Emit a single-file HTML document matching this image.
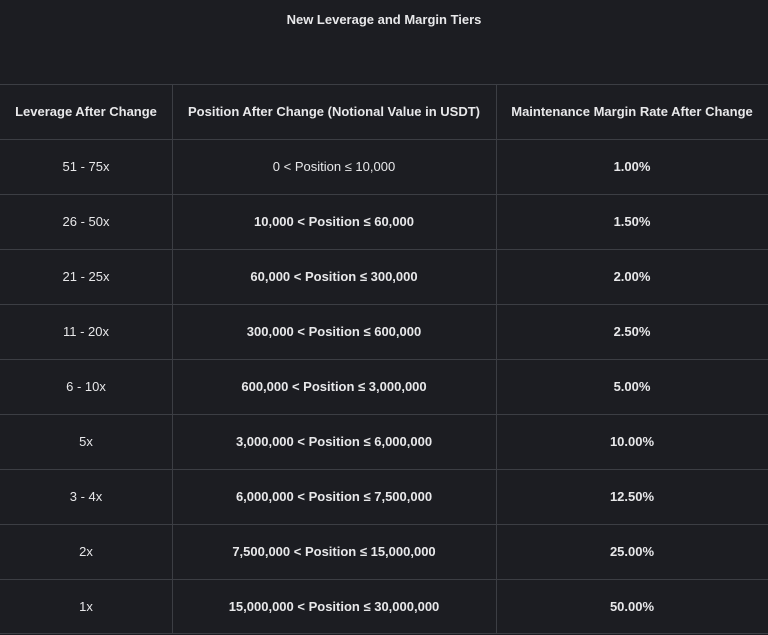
<!DOCTYPE html>
<html><head><style>
body{margin:0;width:768px;height:635px;background:#1c1d22;font-family:"Liberation Sans",sans-serif;color:#e8e8ea;overflow:hidden;position:relative}
.t{position:absolute;top:12px;left:0;width:768px;text-align:center;font-size:13px;font-weight:bold}
.h{position:absolute;left:0;width:768px;height:1px;background:#3c3e44}
.v{position:absolute;top:84px;height:550px;width:1px;background:#3c3e44}
.c{position:absolute;height:55px;line-height:55px;text-align:center;font-size:13px;white-space:nowrap}
.b{font-weight:bold}
</style></head><body>
<div class="t">New Leverage and Margin Tiers</div>
<div class="h" style="top:84px"></div><div class="h" style="top:139px"></div><div class="h" style="top:194px"></div><div class="h" style="top:249px"></div><div class="h" style="top:304px"></div><div class="h" style="top:359px"></div><div class="h" style="top:414px"></div><div class="h" style="top:469px"></div><div class="h" style="top:524px"></div><div class="h" style="top:579px"></div><div class="h" style="top:633px"></div>
<div class="v" style="left:172px"></div><div class="v" style="left:496px"></div>
<div id="g"></div>
<script>
var rows=[["Leverage After Change","Position After Change (Notional Value in USDT)","Maintenance Margin Rate After Change"],
["51 - 75x","0 < Position ≤ 10,000","1.00%"],["26 - 50x","10,000 < Position ≤ 60,000","1.50%"],["21 - 25x","60,000 < Position ≤ 300,000","2.00%"],["11 - 20x","300,000 < Position ≤ 600,000","2.50%"],["6 - 10x","600,000 < Position ≤ 3,000,000","5.00%"],["5x","3,000,000 < Position ≤ 6,000,000","10.00%"],["3 - 4x","6,000,000 < Position ≤ 7,500,000","12.50%"],["2x","7,500,000 < Position ≤ 15,000,000","25.00%"],["1x","15,000,000 < Position ≤ 30,000,000","50.00%"]];
var xs=[[0,172],[172,324],[496,272]],h="";
rows.forEach(function(r,i){r.forEach(function(t,j){var bold=(i==0||(i>1&&j>0)||(i==1&&j==2))?" b":"";h+='<div class="c'+bold+'" style="top:'+(84+i*55)+'px;left:'+xs[j][0]+'px;width:'+xs[j][1]+'px">'+t.replace(/</g,"&lt;")+'</div>';});});
document.getElementById("g").innerHTML=h;
</script>
</body></html>
